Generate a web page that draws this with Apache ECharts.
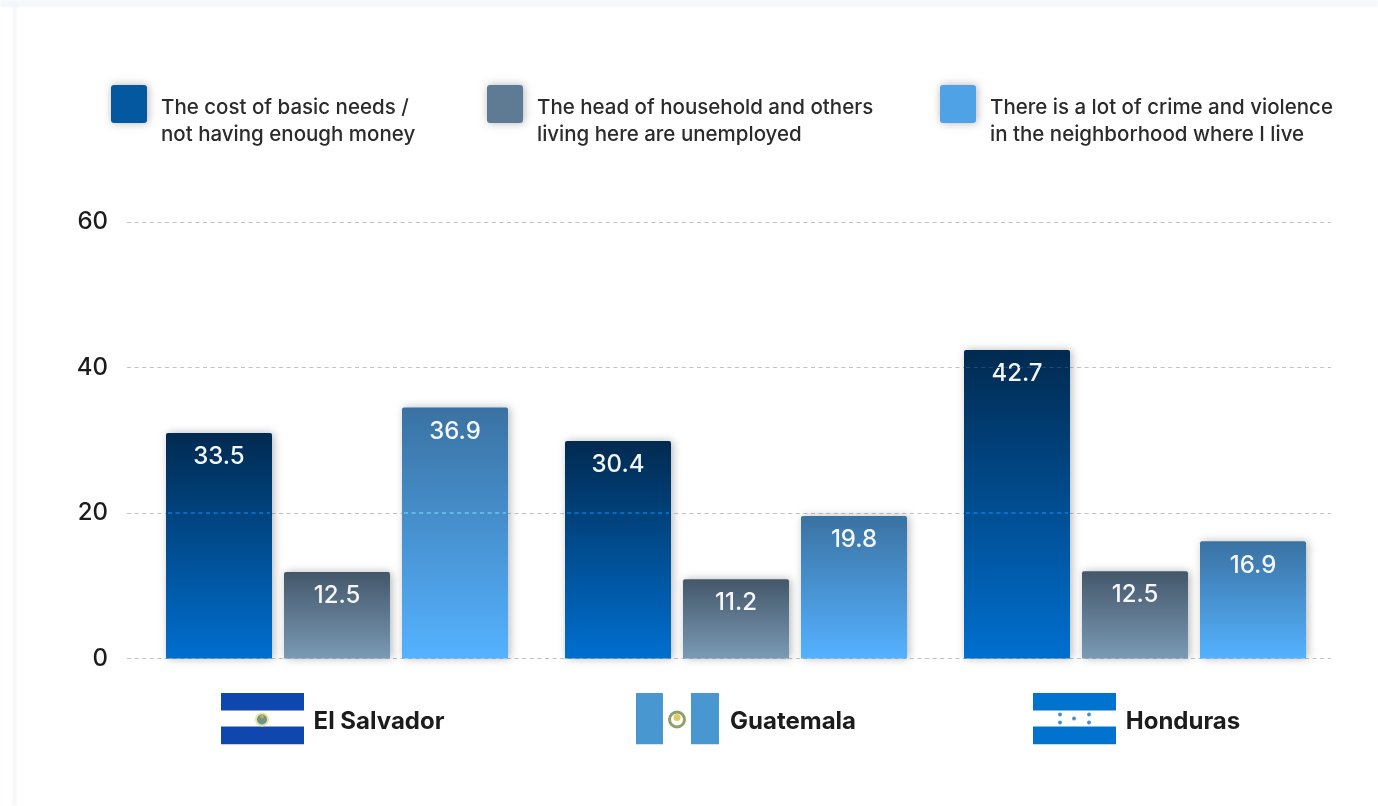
<!DOCTYPE html>
<html>
<head>
<meta charset="utf-8">
<style>
html,body{margin:0;padding:0;width:1378px;height:806px;background:#fff;overflow:hidden}
#strip{position:absolute;left:0;top:0;width:1378px;height:7px;background:#f4f8fb;filter:blur(1px)}
#edge{position:absolute;left:13px;top:4px;width:3px;height:802px;background:#f1f5f9;filter:blur(1px)}
#main{position:absolute;left:0;top:0;width:1378px;height:806px;filter:blur(0.5px)}
</style>
</head>
<body>
<div id="strip"></div><div id="edge"></div>
<div id="main"></div>
<script src="https://cdn.jsdelivr.net/npm/echarts@6/dist/echarts.min.js"></script>
<script>
const categories = ['El Salvador', 'Guatemala', 'Honduras'];
const legendNames = [
  'The cost of basic needs /\nnot having enough money',
  'The head of household and others\nliving here are unemployed',
  'There is a lot of crime and violence\nin the neighborhood where I live'
];
// Numbers printed on the bars
const printedCost = [33.5, 30.4, 42.7];
const printedUnemployed = [12.5, 11.2, 12.5];
const printedCrime = [36.9, 19.8, 16.9];
// Bar heights as read against the axis (the source's bars do not quite agree with their printed numbers)
const heightCost = [31.0, 29.9, 42.4];
const heightUnemployed = [11.9, 10.9, 12.0];
const heightCrime = [34.5, 19.6, 16.1];
const yTicks = [0, 20, 40, 60];

const printed = [printedCost, printedUnemployed, printedCrime];
const heights = [heightCost, heightUnemployed, heightCrime];
const barColors = [['#012a50', '#006fcf'], ['#44576a', '#7a9ab5'], ['#3a72a2', '#55b2ff']];
const legendColors = ['#03589f', '#5f7b94', '#4ea2e5'];
const legendLeft = [111, 487, 940];
const FONT = 'Inter';
const BAR_W = 106, BAR_GAP = 12;
const BOX_ICON = 'path://M3,0H33Q36,0 36,3V35Q36,38 33,38H3Q0,38 0,35V3Q0,0 3,0Z';

function svgUri(s) {
  return 'data:image/svg+xml;charset=utf-8,' + encodeURIComponent(
    '<svg xmlns="http://www.w3.org/2000/svg" width="83" height="52" viewBox="0 0 83 52">' + s + '</svg>');
}
const flagImages = [
  svgUri('<rect width="83" height="18" fill="#0f47af"/><rect y="34" width="83" height="18" fill="#0f47af"/>' +
    '<circle cx="41" cy="27" r="7" fill="#e8e3a6"/><circle cx="41" cy="27" r="5" fill="#6f9488"/><circle cx="41" cy="24" r="2" fill="#c9a84c"/>'),
  svgUri('<rect width="27" height="52" fill="#4997d0"/><rect x="55" width="28" height="52" fill="#4997d0"/>' +
    '<circle cx="41" cy="27" r="7.5" fill="none" stroke="#8da06a" stroke-width="3"/><circle cx="41" cy="25" r="3.5" fill="#e3c766"/>'),
  svgUri('<rect width="83" height="18" fill="#0073cf"/><rect y="34" width="83" height="18" fill="#0073cf"/>' +
    ['27,22', '56,22', '41,26', '27,30', '56,30'].map(p => {
      const [x, y] = p.split(',');
      return '<circle cx="' + x + '" cy="' + y + '" r="1.9" fill="#3f8fdc"/>';
    }).join(''))
];
const leadGap = [0, 21, 3];
const nameWidth = [130, 128, 114];
const trailGap = [9, 0, 0];

const rich = {};
categories.forEach((c, i) => {
  rich['g' + i] = { width: leadGap[i], height: 52 };
  rich['f' + i] = { width: 83, height: 52, backgroundColor: { image: flagImages[i] } };
  rich['n' + i] = { width: nameWidth[i], padding: [7, trailGap[i], 0, 10], fontFamily: FONT, fontSize: 24, fontWeight: 700, color: '#1c1c1c' };
});

const barSeries = heights.map((vals, s) => ({
  type: 'bar',
  name: legendNames[s],
  xAxisIndex: 1,
  yAxisIndex: 1,
  data: vals,
  barWidth: BAR_W,
  barGap: (BAR_GAP / BAR_W * 100) + '%',
  itemStyle: {
    borderRadius: [2, 2, 0, 0],
    shadowBlur: 9,
    shadowColor: 'rgba(0,0,0,0.28)',
    shadowOffsetX: 2,
    color: { type: 'linear', x: 0, y: 0, x2: 0, y2: 1, colorStops: [
      { offset: 0, color: barColors[s][0] }, { offset: 1, color: barColors[s][1] }] }
  },
  label: {
    show: true,
    position: 'insideTop',
    distance: 12,
    fontFamily: FONT,
    fontSize: 24,
    fontWeight: 500,
    color: '#f4f6f8',
    formatter: p => printed[s][p.dataIndex].toFixed(1)
  }
}));

// Gridline glints that show through the bars in the source
const glint = [];
heights.forEach((vals, s) => vals.forEach((h, c) => yTicks.forEach(t => {
  if (t > 0 && h > t) glint.push([c, t, s]);
})));
const glintColor = (s, t) => t >= 40 ? '#0d4f8a' : (s === 0 ? '#0f96ff' : '#7ce6fa');

const option = {
  animation: false,
  backgroundColor: 'transparent',
  textStyle: { fontFamily: FONT },
  grid: [
    { left: 127, right: 47, top: 222, bottom: 147.5 },
    { left: 137.5, width: 1197, top: 222, bottom: 147.5 }
  ],
  legend: legendNames.map((n, i) => ({
    left: legendLeft[i],
    top: 72,
    padding: 0,
    selectedMode: false,
    itemWidth: 36,
    itemHeight: 38,
    icon: BOX_ICON,
    data: [{ name: n, itemStyle: { color: legendColors[i], shadowBlur: 8, shadowColor: 'rgba(0,0,0,0.3)', shadowOffsetX: 1 } }],
    formatter: name => '{b| }\n' + name.split('\n').map(l => `{t|${l}}`).join('\n'),
    textStyle: {
      padding: [0, 0, 0, 9],
      rich: {
        b: { fontSize: 10, lineHeight: 35 },
        t: { fontFamily: FONT, fontSize: 20.5, fontWeight: 500, color: '#2b2b2b', lineHeight: 27 }
      }
    }
  })),
  xAxis: [
    { gridIndex: 0, type: 'category', data: [], show: false },
    {
      gridIndex: 1, type: 'category', data: categories,
      axisLine: { show: false }, axisTick: { show: false },
      axisLabel: { margin: 34, formatter: (v, i) => `{g${i}|}{f${i}|}{n${i}|${v}}`, rich }
    }
  ],
  yAxis: [
    {
      gridIndex: 0, type: 'value', min: 0, max: 60, interval: 20,
      axisLine: { show: false }, axisTick: { show: false },
      axisLabel: { margin: 19, fontFamily: FONT, fontSize: 24, fontWeight: 500, color: '#1c1c1c', padding: [3, 0, 0, 0] },
      splitLine: { show: true, lineStyle: { color: '#c2c2c2', width: 1, type: [4, 3.6] } }
    },
    { gridIndex: 1, type: 'value', min: 0, max: 60, interval: 20, show: false, splitLine: { show: false } }
  ],
  series: barSeries.concat([{
    type: 'custom',
    xAxisIndex: 1,
    yAxisIndex: 1,
    silent: true,
    z: 3,
    data: glint,
    encode: { x: 0, y: 1 },
    renderItem: (params, api) => {
      const c = api.value(0), t = api.value(1), s = api.value(2);
      const p = api.coord([c, t]);
      const x = p[0] + (s - 1) * (BAR_W + BAR_GAP) - BAR_W / 2;
      return { type: 'line', shape: { x1: x + 2, y1: p[1], x2: x + BAR_W - 2, y2: p[1] },
        style: { stroke: glintColor(s, t), lineWidth: 1, lineDash: [4, 3.6] } };
    }
  }])
};

const chart = echarts.init(document.getElementById('main'), null, { renderer: 'canvas' });
chart.setOption(option);
</script>
</body>
</html>
